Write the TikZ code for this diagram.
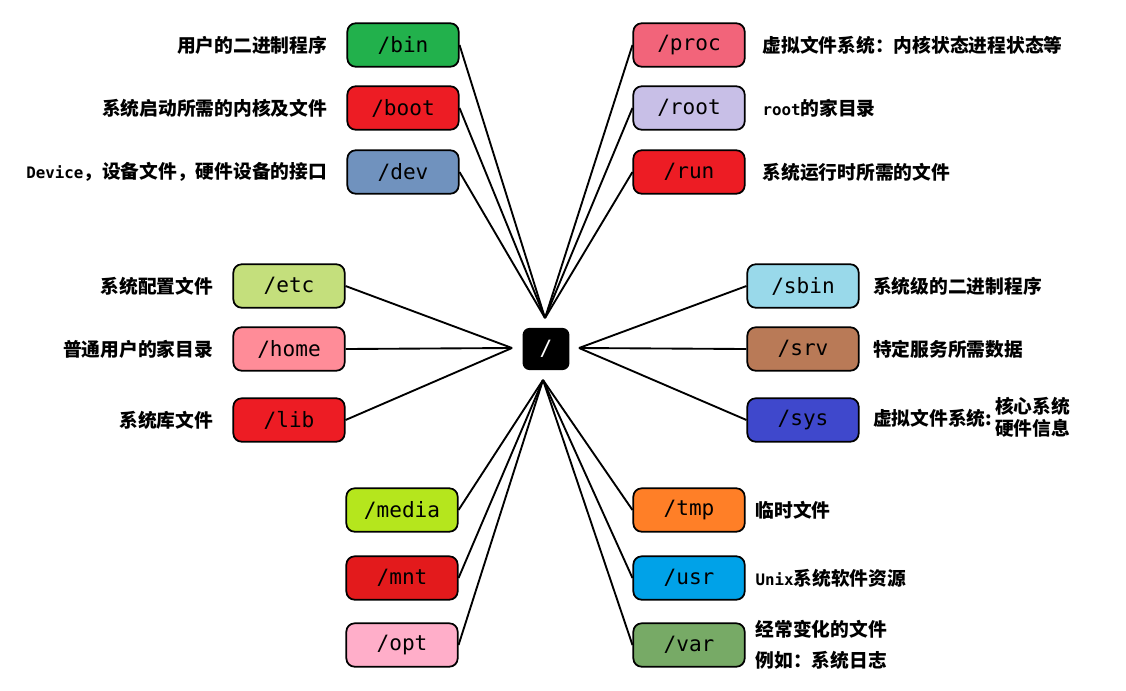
\documentclass[tikz,border=0pt]{standalone}
\usepackage{fontspec}
\usepackage{tikz}
\usetikzlibrary{positioning}
\newfontfamily\cjk{Noto Sans CJK SC}
\newfontfamily\mono{DejaVu Sans Mono}
\newcommand{\lat}[1]{{\mono\fontsize{13.5}{16}\selectfont #1}}

\definecolor{binc}{HTML}{22B14C}
\definecolor{bootc}{HTML}{ED1C24}
\definecolor{devc}{HTML}{7092BE}
\definecolor{etcc}{HTML}{C4DF7C}
\definecolor{homec}{HTML}{FF8C98}
\definecolor{libc}{HTML}{ED1C24}
\definecolor{mediac}{HTML}{B5E61D}
\definecolor{mntc}{HTML}{E31A1C}
\definecolor{optc}{HTML}{FFAEC9}
\definecolor{procc}{HTML}{F2647A}
\definecolor{rootc}{HTML}{C8BFE7}
\definecolor{runc}{HTML}{ED1C24}
\definecolor{sbinc}{HTML}{99D9EA}
\definecolor{srvc}{HTML}{B97A57}
\definecolor{sysc}{HTML}{3F48CC}
\definecolor{tmpc}{HTML}{FF7F27}
\definecolor{usrc}{HTML}{00A2E8}
\definecolor{varc}{HTML}{77AA66}

\tikzset{
    dirbox/.style={draw, line width=1.5pt, rounded corners=7pt, minimum width=95pt,
        minimum height=37pt, font=\mono\fontsize{18}{20}\selectfont},
    desc/.style={font=\cjk\bfseries\fontsize{16}{19}\selectfont},
    link/.style={line width=1.6pt},
}

\begin{document}
\begin{tikzpicture}[x=0.03cm, y=-0.03cm]
    \useasboundingbox (0,0) rectangle (1126,690);
    \node[fill=black, rounded corners=6pt, minimum width=40pt, minimum height=36pt,
        text=white, font=\mono\fontsize{18}{20}\selectfont] (fsroot) at (546,349) {/};
    \coordinate (top) at (545,318);
    \coordinate (left) at (512,348);
    \coordinate (right) at (579,348);
    \coordinate (bottom) at (543,380);

    % upper left
    \foreach \n/\y/\c/\d in {bin/45/binc/用户的二进制程序, boot/108/bootc/系统启动所需的内核及文件,
        dev/172/devc/{\lat{Device}，设备文件，硬件设备的接口}} {
        \node[dirbox, fill=\c] (\n) at (403,\y) {/\n};
        \node[desc, left=13pt of \n] (\n-txt) {\d};
        \draw[link] (\n.east) -- (top);
    }
    % upper right
    \foreach \n/\y/\c/\d in {proc/45/procc/虚拟文件系统：内核状态进程状态等, root/108/rootc/{\lat{root}的家目录},
        run/172/runc/系统运行时所需的文件} {
        \node[dirbox, fill=\c] (\n) at (689,\y) {/\n};
        \node[desc, right=11pt of \n] (\n-txt) {\d};
        \draw[link] (\n.west) -- (top);
    }
    % middle left
    \foreach \n/\y/\c/\d in {etc/286/etcc/系统配置文件, home/349/homec/普通用户的家目录, lib/420/libc/系统库文件} {
        \node[dirbox, fill=\c] (\n) at (289,\y) {/\n};
        \node[desc, left=13pt of \n] (\n-txt) {\d};
        \draw[link] (\n.east) -- (left);
    }
    % middle right
    \foreach \n/\y/\c/\d in {sbin/286/sbinc/系统级的二进制程序, srv/349/srvc/特定服务所需数据,
        sys/420/sysc/{虚拟文件系统:\,\begin{tabular}{@{}l@{}}核心系统\\[-1pt]硬件信息\end{tabular}}} {
        \node[dirbox, fill=\c] (\n) at (803,\y) {/\n};
        \node[desc, right=8pt of \n] (\n-txt) {\d};
        \draw[link] (\n.west) -- (right);
    }
    % lower left
    \foreach \n/\y/\c in {media/510/mediac, mnt/578/mntc, opt/645/optc} {
        \node[dirbox, fill=\c] (\n) at (402,\y) {/\n};
        \draw[link] (\n.east) -- (bottom);
    }
    % lower right
    \foreach \n/\y/\c/\d in {tmp/510/tmpc/临时文件, usr/578/usrc/{\lat{Unix}系统软件资源},
        var/645/varc/{经常变化的文件\\例如：系统日志}} {
        \node[dirbox, fill=\c] (\n) at (689,\y) {/\n};
        \node[desc, right=5pt of \n, align=left, font=\cjk\bfseries\fontsize{16}{26}\selectfont] (\n-txt) {\d};
        \draw[link] (\n.west) -- (bottom);
    }
\end{tikzpicture}
\end{document}
